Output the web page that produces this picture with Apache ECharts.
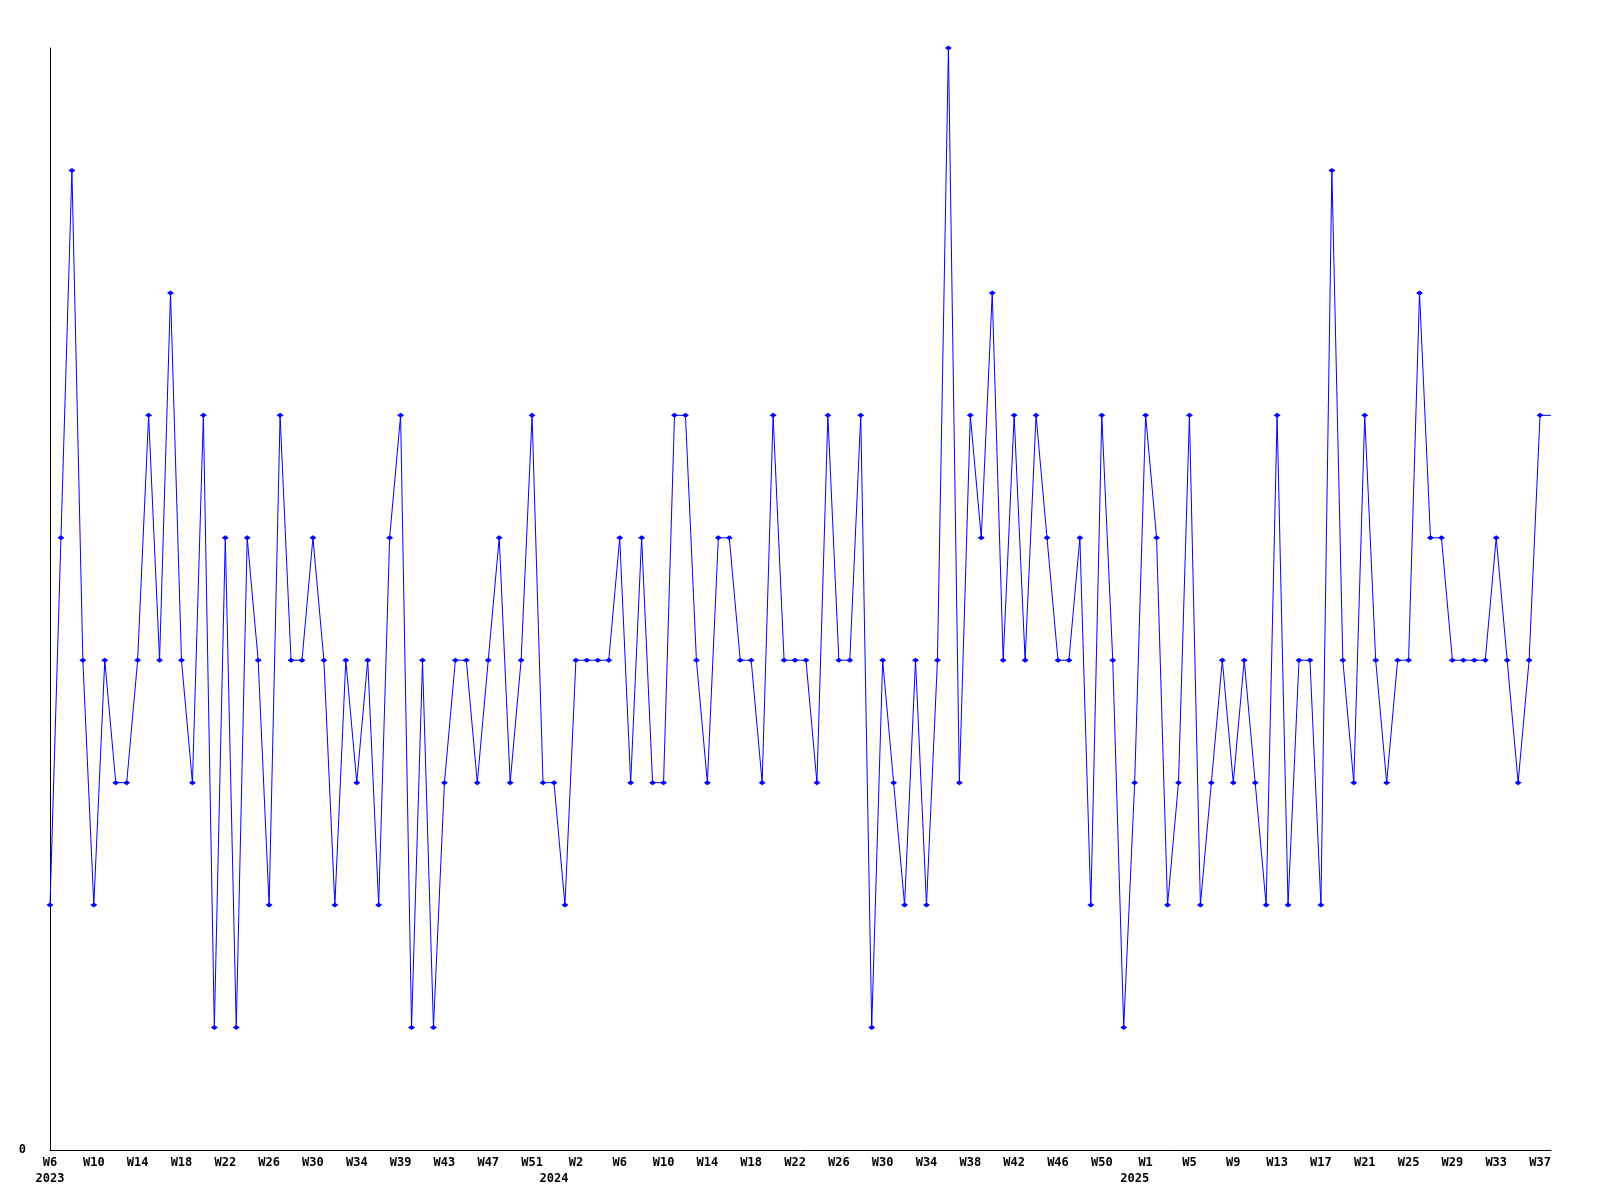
<!DOCTYPE html>
<html lang="en">
	<head>
		<meta charset="UTF-8">
		<title>Weekly chart</title>
		<style>
			html, body { margin: 0; padding: 0; background: #fff; }
			#chart { width: 1600px; height: 1200px; }
		</style>
	</head>
	<body>
		<div id="chart"></div>
	</body>
	<script src="https://cdn.jsdelivr.net/npm/echarts@6/dist/echarts.min.js"></script>
	<script>
		// weekly counts, 2023 W6 .. 2025 W37, last entry is the running week (no marker)
		var values = [2, 5, 8, 4, 2, 4, 3, 3, 4, 6, 4, 7, 4, 3, 6, 1, 5, 1, 5, 4,
			2, 6, 4, 4, 5, 4, 2, 4, 3, 4, 2, 5, 6, 1, 4, 1, 3, 4, 4, 3,
			4, 5, 3, 4, 6, 3, 3, 2, 4, 4, 4, 4, 5, 3, 5, 3, 3, 6, 6, 4,
			3, 5, 5, 4, 4, 3, 6, 4, 4, 4, 3, 6, 4, 4, 6, 1, 4, 3, 2, 4,
			2, 4, 9, 3, 6, 5, 7, 4, 6, 4, 6, 5, 4, 4, 5, 2, 6, 4, 1, 3,
			6, 5, 2, 3, 6, 2, 3, 4, 3, 4, 3, 2, 6, 2, 4, 4, 2, 8, 4, 3,
			6, 4, 3, 4, 4, 7, 5, 5, 4, 4, 4, 4, 5, 4, 3, 4, 6, 6];

		// one tick label every 4 points
		var weekLabels = ['W6', 'W10', 'W14', 'W18', 'W22', 'W26', 'W30', 'W34', 'W39', 'W43', 'W47', 'W51',
			'W2', 'W6', 'W10', 'W14', 'W18', 'W22', 'W26', 'W30', 'W34', 'W38', 'W42', 'W46', 'W50',
			'W1', 'W5', 'W9', 'W13', 'W17', 'W21', 'W25', 'W29', 'W33', 'W37'];
		var yearLabels = ['2023', '2024', '2025'];
		var yearAt = [0, 46, 99];

		var categories = values.map(function (v, i) { return String(i); });
		var seriesData = values.map(function (v, i) {
			if (i === values.length - 1) {
				return { value: v, symbol: 'none' };
			}
			return v;
		});

		var labelFont = {
			color: '#000',
			fontFamily: 'DejaVu Sans Mono',
			fontWeight: 'bold',
			fontSize: 12
		};

		var myChart = echarts.init(document.getElementById('chart'));

		var option = {
			animation: false,
			backgroundColor: '#fff',
			grid: {
				left: 50,
				right: 49,
				top: 48,
				bottom: 50,
				containLabel: false
			},
			xAxis: [{
				type: 'category',
				data: categories,
				boundaryGap: false,
				axisLine: { lineStyle: { color: '#000', width: 1 } },
				axisTick: { show: false },
				splitLine: { show: false },
				axisLabel: Object.assign({
					interval: 0,
					margin: 7,
					hideOverlap: false,
					formatter: function (v, i) {
						return i % 4 === 0 ? weekLabels[i / 4] : '';
					}
				}, labelFont)
			}, {
				// second row: the years
				type: 'category',
				data: categories,
				boundaryGap: false,
				position: 'bottom',
				offset: 16,
				axisLine: { show: false },
				axisTick: { show: false },
				splitLine: { show: false },
				axisLabel: Object.assign({
					interval: 0,
					margin: 7,
					hideOverlap: false,
					formatter: function (v, i) {
						var k = yearAt.indexOf(i);
						return k >= 0 ? yearLabels[k] : '';
					}
				}, labelFont)
			}],
			yAxis: {
				type: 'value',
				min: 0,
				max: 9,
				interval: 1,
				axisLine: { show: true, lineStyle: { color: '#000', width: 1 } },
				axisTick: { show: false },
				splitLine: { show: false },
				axisLabel: Object.assign({
					margin: 24,
					formatter: function (v) {
						return v === 0 ? '0' : '';
					}
				}, labelFont)
			},
			series: [{
				type: 'line',
				xAxisIndex: 0,
				data: seriesData,
				symbol: 'diamond',
				symbolSize: [7, 5],
				showAllSymbol: true,
				itemStyle: { color: '#0000ff' },
				lineStyle: { color: '#0000ff', width: 1 }
			}]
		};

		myChart.setOption(option);
	</script>
</html>
